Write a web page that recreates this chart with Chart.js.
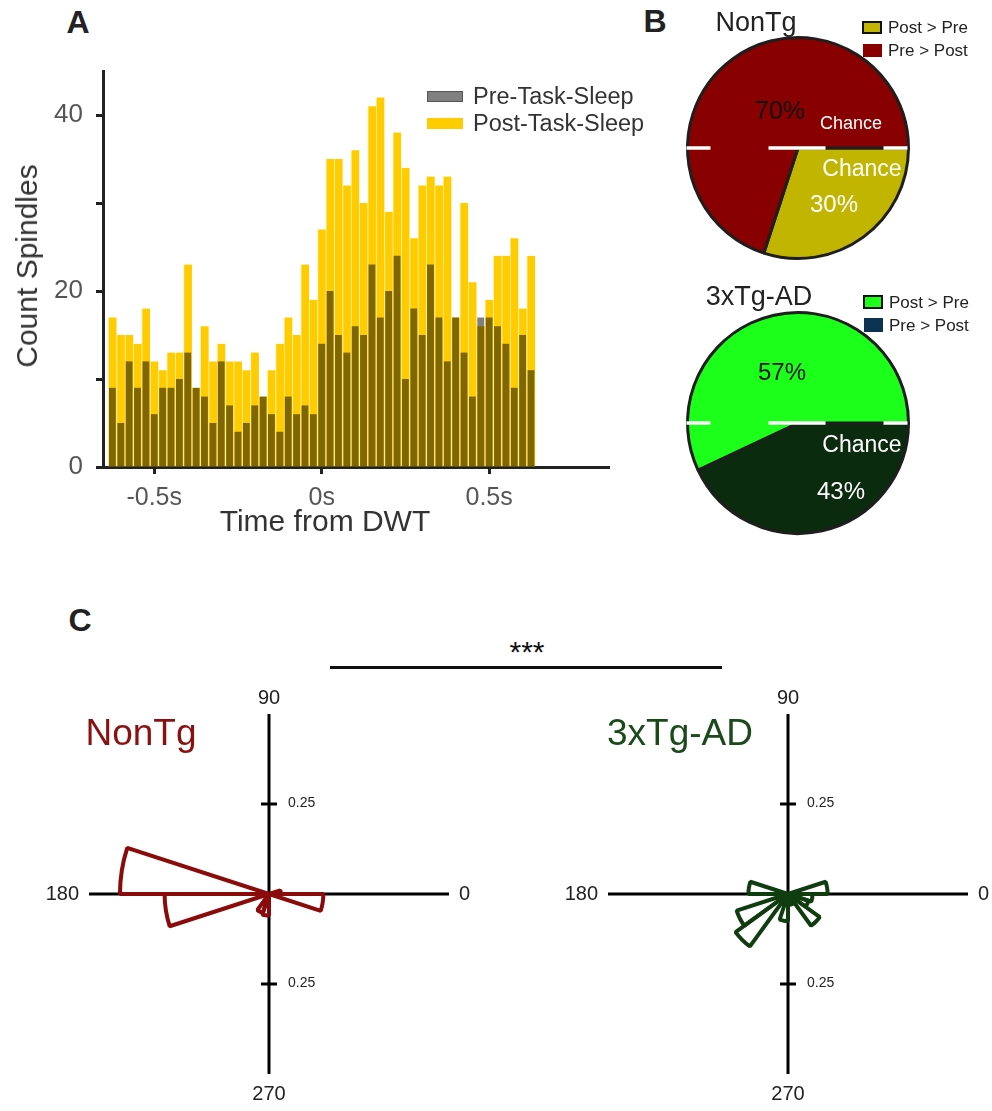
<!DOCTYPE html>
<html>
<head>
<meta charset="utf-8">
<script src="https://cdn.jsdelivr.net/npm/chart.js@4.4.1/dist/chart.umd.min.js"></script>
<style>
  html, body { margin: 0; padding: 0; background: #fff; overflow: hidden; }
  #fig { position: relative; width: 992px; height: 1111px; font-family: "Liberation Sans", Arial, sans-serif; color: #222; }
  canvas { position: absolute; }
  .t { position: absolute; transform: translate(-50%, -50%); white-space: nowrap; line-height: 1; }
  .l { position: absolute; transform: translate(0, -50%); white-space: nowrap; line-height: 1; }
  .panel { font-weight: bold; font-size: 32px; color: #222; }
  .box { position: absolute; box-sizing: border-box; }
  .white { color: #fff; }
</style>
</head>
<body>
<div id="fig">
  <!-- panel A -->
  <div class="t panel" style="left:78px;top:22px">A</div>
  <canvas id="hist" width="640" height="560" style="left:0;top:0"></canvas>
  <div class="t" style="left:27px;top:266px;font-size:30px;color:#333;transform:translate(-50%,-50%) rotate(-90deg)">Count Spindles</div>
  <div class="t" style="left:325px;top:521px;font-size:30px;color:#333">Time from DWT</div>
  <div class="box" style="left:427px;top:91px;width:36px;height:11px;background:#808080;border:1.5px solid #555"></div>
  <div class="l" style="left:473px;top:97px;font-size:23.5px;color:#333">Pre-Task-Sleep</div>
  <div class="box" style="left:427px;top:118px;width:36px;height:11px;background:#ffcc00"></div>
  <div class="l" style="left:473px;top:124px;font-size:23.5px;color:#333">Post-Task-Sleep</div>

  <!-- panel B -->
  <div class="t panel" style="left:655px;top:21px">B</div>
  <canvas id="pieNonTg" width="240" height="240" style="left:678px;top:28px"></canvas>
  <canvas id="pieAD" width="240" height="240" style="left:678px;top:303px"></canvas>
  <div class="t" style="left:756px;top:22px;font-size:27px">NonTg</div>
  <div class="box" style="left:862px;top:21px;width:20px;height:13px;background:#c2b500;border:2px solid #111"></div>
  <div class="l" style="left:888px;top:27px;font-size:17px">Post &gt; Pre</div>
  <div class="box" style="left:863px;top:44px;width:19px;height:13px;background:#880000"></div>
  <div class="l" style="left:888px;top:50px;font-size:17px">Pre &gt; Post</div>
  <div class="t" style="left:780px;top:110px;font-size:25px;color:#111">70%</div>
  <div class="t white" style="left:851px;top:123px;font-size:18px">Chance</div>
  <div class="t white" style="left:862px;top:168px;font-size:23px">Chance</div>
  <div class="t white" style="left:834px;top:204px;font-size:24px">30%</div>

  <div class="t" style="left:759px;top:296px;font-size:27px">3xTg-AD</div>
  <div class="box" style="left:863px;top:295px;width:20px;height:14px;background:#1bff1b;border:2px solid #111"></div>
  <div class="l" style="left:889px;top:302px;font-size:17px">Post &gt; Pre</div>
  <div class="box" style="left:864px;top:318px;width:19px;height:14px;background:#0b3250"></div>
  <div class="l" style="left:889px;top:325px;font-size:17px">Pre &gt; Post</div>
  <div class="t" style="left:782px;top:372px;font-size:24px;color:#111">57%</div>
  <div class="t white" style="left:862px;top:444px;font-size:23px">Chance</div>
  <div class="t white" style="left:841px;top:491px;font-size:24px">43%</div>

  <!-- panel C -->
  <div class="t panel" style="left:80px;top:620px">C</div>
  <div class="t" style="left:527px;top:652px;font-size:30px;color:#111">***</div>
  <div class="box" style="left:330px;top:666px;width:392px;height:3px;background:#111"></div>
  <canvas id="roseNonTg" width="440" height="445" style="left:33px;top:664px"></canvas>
  <canvas id="roseAD" width="440" height="445" style="left:552px;top:664px"></canvas>
  <div class="t" style="left:141px;top:732px;font-size:37px;color:#8b1111">NonTg</div>
  <div class="t" style="left:680px;top:732px;font-size:37px;color:#1a4a1a">3xTg-AD</div>
</div>

<script>
// Spindle counts around DWT, 25 ms bins (bin centres in s)
const binCenters = [-0.625, -0.6, -0.575, -0.55, -0.525, -0.5, -0.475, -0.45, -0.425, -0.4,
  -0.375, -0.35, -0.325, -0.3, -0.275, -0.25, -0.225, -0.2, -0.175, -0.15,
  -0.125, -0.1, -0.075, -0.05, -0.025, 0, 0.025, 0.05, 0.075, 0.1,
  0.125, 0.15, 0.175, 0.2, 0.225, 0.25, 0.275, 0.3, 0.325, 0.35,
  0.375, 0.4, 0.425, 0.45, 0.475, 0.5, 0.525, 0.55, 0.575, 0.6, 0.625]
const preTaskCounts = [9, 5, 12, 9, 12, 6, 9, 9, 10, 13,
  9, 8, 5, 12, 7, 4, 5, 7, 8, 6,
  4, 8, 6, 7, 6, 14, 20, 15, 13, 16,
  15, 23, 17, 20, 24, 10, 18, 15, 23, 17,
  12, 17, 13, 8, 17, 17, 16, 14, 9, 15, 11]
const postTaskCounts = [17, 15, 15, 14, 18, 12, 11, 13, 13, 23,
  9, 16, 12, 14, 12, 12, 11, 13, 8, 11,
  14, 17, 15, 23, 19, 27, 35, 35, 32, 36,
  30, 41, 42, 29, 38, 34, 26, 32, 33, 32,
  33, 17, 30, 21, 16, 19, 24, 24, 26, 18, 24]
const timeTicks = [-0.5, 0, 0.5]
const countTicks = [0, 10, 20, 30, 40]

// Pies, slices listed clockwise starting at 3 o'clock
const nonTgPieLabels = ['Post > Pre', 'Pre > Post']
const nonTgPieValues = [30, 70]
const adPieLabels = ['Pre > Post', 'Post > Pre']
const adPieValues = [43, 57]

// Phase rose plots: 18 deg bins counter-clockwise from 0 deg, proportion of spindles
const phaseBins = [0, 18, 36, 54, 72, 90, 108, 126, 144, 162,
  180, 198, 216, 234, 252, 270, 288, 306, 324, 342]
const nonTgPhase = [0.033, 0, 0, 0, 0, 0, 0, 0, 0, 0.414,
  0.29, 0, 0, 0.055, 0.06, 0, 0, 0, 0, 0.151]
const adPhase = [0.11, 0, 0, 0, 0, 0, 0, 0, 0, 0.11,
  0.02, 0.15, 0.18, 0.03, 0.075, 0.03, 0.03, 0.109, 0.06, 0.068]
const roseAngleLabels = ['0', '90', '180', '270']
const roseRadiusTicks = [0.25]

const FONT = '"Liberation Sans", Arial, sans-serif'

// Histogram
new Chart(document.getElementById('hist'), {
  type: 'bar',
  data: {
    datasets: [
      {
        label: 'Pre-Task-Sleep',
        data: binCenters.map((t, i) => ({ x: t, y: preTaskCounts[i] })),
        backgroundColor: 'rgba(0, 0, 0, 0.5)',
        barPercentage: 0.82,
        categoryPercentage: 1,
        grouped: false
      },
      {
        label: 'Post-Task-Sleep',
        data: binCenters.map((t, i) => ({ x: t, y: postTaskCounts[i] })),
        backgroundColor: '#ffcc00',
        borderColor: 'rgba(255, 236, 150, 0.7)',
        borderWidth: { left: 1, right: 0, top: 0, bottom: 0 },
        barPercentage: 1,
        categoryPercentage: 1,
        grouped: false
      }
    ]
  },
  options: {
    responsive: false,
    animation: false,
    layout: { padding: { top: 71, right: 31, left: 0, bottom: 0 } },
    plugins: { legend: { display: false }, tooltip: { enabled: false } },
    scales: {
      x: {
        type: 'linear',
        min: -0.653,
        max: 0.858,
        offset: false,
        afterBuildTicks: scale => { scale.ticks = timeTicks.map(v => ({ value: v })) },
        afterFit: scale => { scale.height = 93 },
        ticks: { callback: v => v + 's', font: { size: 25, family: FONT }, color: '#555', padding: 9, maxRotation: 0 },
        grid: { offset: false, drawOnChartArea: false, tickLength: 7, tickWidth: 3, tickColor: '#222' },
        border: { color: '#222', width: 3 }
      },
      y: {
        min: 0,
        max: 45,
        afterBuildTicks: scale => { scale.ticks = countTicks.map(v => ({ value: v })) },
        afterFit: scale => { scale.width = 103 },
        ticks: { callback: v => (v % 20 === 0 ? v : ''), font: { size: 26, family: FONT }, color: '#555', padding: 13 },
        grid: { drawOnChartArea: false, tickLength: 7, tickWidth: 3, tickColor: '#222' },
        border: { color: '#222', width: 3 }
      }
    }
  }
})

// White dashed "chance" line across the pie diameter
const chanceLine = {
  id: 'chanceLine',
  afterDatasetsDraw(chart) {
    const arc = chart.getDatasetMeta(0).data[0]
    const r = arc.outerRadius + 1
    const ctx = chart.ctx
    ctx.save()
    ctx.strokeStyle = '#fff'
    ctx.lineWidth = 3.5
    ctx.setLineDash([24, 58, 57, 58])
    ctx.beginPath()
    ctx.moveTo(arc.x - r, arc.y)
    ctx.lineTo(arc.x + r, arc.y)
    ctx.stroke()
    ctx.restore()
  }
}

function makePie(id, labels, values, colors) {
  return new Chart(document.getElementById(id), {
    type: 'pie',
    data: {
      labels: labels,
      datasets: [{ data: values, backgroundColor: colors, borderColor: '#1e1e1e', borderWidth: 3 }]
    },
    options: {
      responsive: false,
      animation: false,
      rotation: 90,
      layout: { padding: 8 },
      plugins: { legend: { display: false }, tooltip: { enabled: false } }
    },
    plugins: [chanceLine]
  })
}

makePie('pieNonTg', nonTgPieLabels, nonTgPieValues, ['#c2b500', '#880000'])
makePie('pieAD', adPieLabels, adPieValues, ['#0b2b0e', '#1bff1b'])

// Cross-shaped axes for the rose plots
const crossAxes = {
  id: 'crossAxes',
  beforeDatasetsDraw(chart) {
    const r = chart.scales.r
    const ctx = chart.ctx
    const cx = r.xCenter
    const cy = r.yCenter
    const len = r.getDistanceFromCenterForValue(r.max)
    ctx.save()
    ctx.strokeStyle = '#000'
    ctx.lineWidth = 3
    ctx.beginPath()
    ctx.moveTo(cx - len, cy)
    ctx.lineTo(cx + len, cy)
    ctx.moveTo(cx, cy - len)
    ctx.lineTo(cx, cy + len)
    ctx.stroke()

    // radius ticks up and down the vertical axis
    ctx.fillStyle = '#222'
    ctx.font = '14px ' + FONT
    ctx.textAlign = 'left'
    ctx.textBaseline = 'middle'
    roseRadiusTicks.forEach(v => {
      const d = r.getDistanceFromCenterForValue(v)
      ;[-1, 1].forEach(s => {
        ctx.beginPath()
        ctx.moveTo(cx - 8, cy + s * d)
        ctx.lineTo(cx + 8, cy + s * d)
        ctx.stroke()
        ctx.fillText(String(v), cx + 19, cy + s * d - 1)
      })
    })

    // angle labels at the axis ends
    ctx.font = '20px "Liberation Sans Narrow", "Liberation Sans", Arial, sans-serif'
    roseAngleLabels.forEach(lab => {
      const a = Number(lab) * Math.PI / 180
      const c = Math.cos(a)
      const s = Math.sin(a)
      ctx.textAlign = c > 0.5 ? 'left' : c < -0.5 ? 'right' : 'center'
      ctx.textBaseline = s > 0.5 ? 'bottom' : s < -0.5 ? 'top' : 'middle'
      const off = len + (s > 0.5 ? 6 : 10)
      ctx.fillText(lab, cx + c * off, cy - s * off)
    })
    ctx.restore()
  }
}

function makeRose(id, values, color) {
  // polar area runs clockwise from 3 o'clock, so feed the bins in reverse
  return new Chart(document.getElementById(id), {
    type: 'polarArea',
    data: {
      labels: phaseBins.slice().reverse().map(String),
      datasets: [{
        data: values.slice().reverse(),
        backgroundColor: 'rgba(255, 255, 255, 0)',
        borderColor: color,
        borderWidth: 4
      }]
    },
    options: {
      responsive: false,
      animation: false,
      layout: { padding: { left: 56, right: 24, top: 50, bottom: 35 } },
      plugins: { legend: { display: false }, tooltip: { enabled: false } },
      scales: {
        r: {
          min: 0,
          max: 0.5,
          startAngle: 90,
          ticks: { display: false },
          grid: { display: false },
          angleLines: { display: false },
          pointLabels: { display: false }
        }
      }
    },
    plugins: [crossAxes]
  })
}

makeRose('roseNonTg', nonTgPhase, '#8b0a0a')
makeRose('roseAD', adPhase, '#0f3d0f')
</script>
</body>
</html>
